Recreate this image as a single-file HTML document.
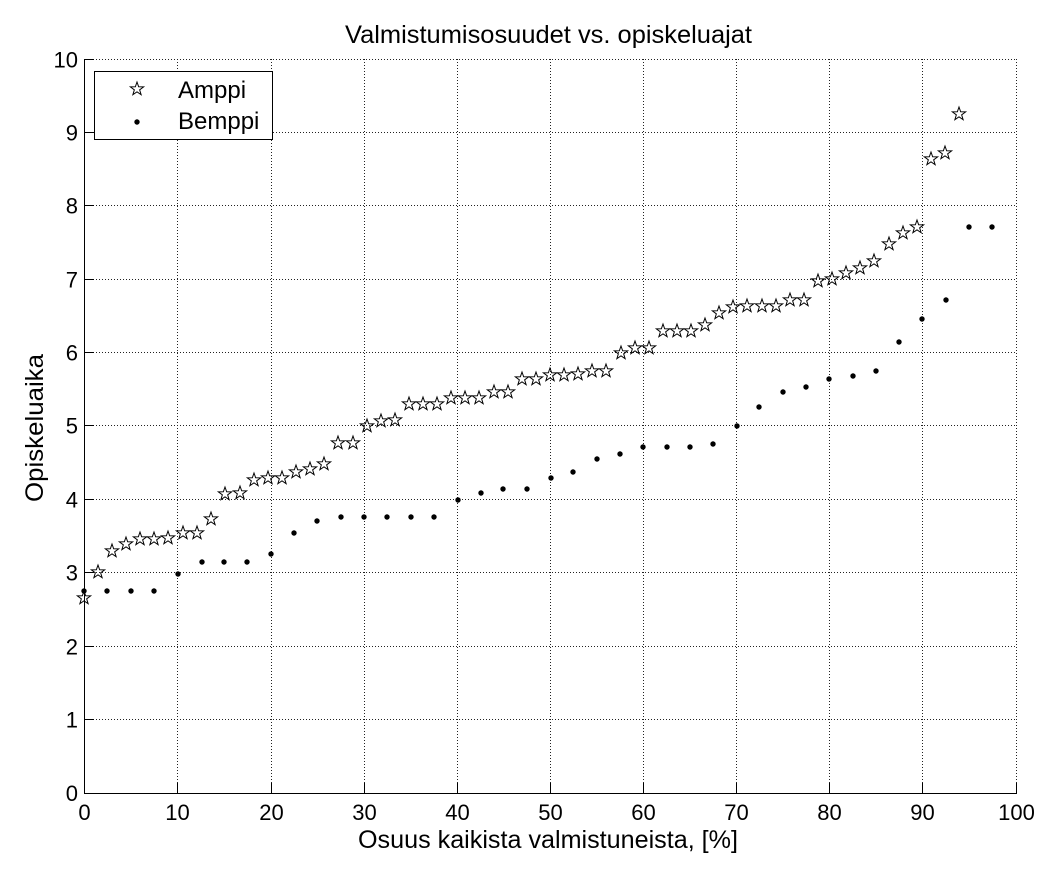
<!DOCTYPE html>
<html>
<head>
<meta charset="utf-8">
<style>
  html, body { margin: 0; padding: 0; background: #fff; }
  svg { display: block; }
  text { font-family: "Liberation Sans", Arial, sans-serif; fill: #000; }
</style>
</head>
<body>
<svg width="1064" height="873" viewBox="0 0 1064 873" xmlns="http://www.w3.org/2000/svg">
  <defs>
    <path id="st" d="M0,-7 L1.65,-2.27 L6.66,-2.16 L2.66,0.87 L4.11,5.66 L0,2.8 L-4.11,5.66 L-2.66,0.87 L-6.66,-2.16 L-1.65,-2.27 Z" fill="none" stroke="#000" stroke-width="1"/>
    <circle id="dt" cx="0" cy="0" r="2.7" fill="#000"/>
  </defs>
  <rect x="0" y="0" width="1064" height="873" fill="#fff"/>

  <g stroke="#222" stroke-width="1" stroke-dasharray="1,2" shape-rendering="crispEdges">
    <line x1="177.5" y1="59" x2="177.5" y2="793"/>
    <line x1="271.5" y1="59" x2="271.5" y2="793"/>
    <line x1="364.5" y1="59" x2="364.5" y2="793"/>
    <line x1="457.5" y1="59" x2="457.5" y2="793"/>
    <line x1="550.5" y1="59" x2="550.5" y2="793"/>
    <line x1="643.5" y1="59" x2="643.5" y2="793"/>
    <line x1="736.5" y1="59" x2="736.5" y2="793"/>
    <line x1="829.5" y1="59" x2="829.5" y2="793"/>
    <line x1="922.5" y1="59" x2="922.5" y2="793"/>
    <line x1="1016.5" y1="59" x2="1016.5" y2="793"/>
    <line x1="84" y1="719.5" x2="1017" y2="719.5"/>
    <line x1="84" y1="646.5" x2="1017" y2="646.5"/>
    <line x1="84" y1="572.5" x2="1017" y2="572.5"/>
    <line x1="84" y1="499.5" x2="1017" y2="499.5"/>
    <line x1="84" y1="425.5" x2="1017" y2="425.5"/>
    <line x1="84" y1="352.5" x2="1017" y2="352.5"/>
    <line x1="84" y1="279.5" x2="1017" y2="279.5"/>
    <line x1="84" y1="205.5" x2="1017" y2="205.5"/>
    <line x1="84" y1="132.5" x2="1017" y2="132.5"/>
    <line x1="84" y1="59.5" x2="1017" y2="59.5"/>
  </g>

  <g stroke="#000" stroke-width="1" shape-rendering="crispEdges">
    <line x1="84.5" y1="59" x2="84.5" y2="794"/>
    <line x1="84" y1="793.5" x2="1017" y2="793.5"/>
    <line x1="177.5" y1="793" x2="177.5" y2="783"/>
    <line x1="271.5" y1="793" x2="271.5" y2="783"/>
    <line x1="364.5" y1="793" x2="364.5" y2="783"/>
    <line x1="457.5" y1="793" x2="457.5" y2="783"/>
    <line x1="550.5" y1="793" x2="550.5" y2="783"/>
    <line x1="643.5" y1="793" x2="643.5" y2="783"/>
    <line x1="736.5" y1="793" x2="736.5" y2="783"/>
    <line x1="829.5" y1="793" x2="829.5" y2="783"/>
    <line x1="922.5" y1="793" x2="922.5" y2="783"/>
    <line x1="1016.5" y1="793" x2="1016.5" y2="783"/>
    <line x1="84" y1="719.5" x2="94" y2="719.5"/>
    <line x1="84" y1="646.5" x2="94" y2="646.5"/>
    <line x1="84" y1="572.5" x2="94" y2="572.5"/>
    <line x1="84" y1="499.5" x2="94" y2="499.5"/>
    <line x1="84" y1="425.5" x2="94" y2="425.5"/>
    <line x1="84" y1="352.5" x2="94" y2="352.5"/>
    <line x1="84" y1="279.5" x2="94" y2="279.5"/>
    <line x1="84" y1="205.5" x2="94" y2="205.5"/>
    <line x1="84" y1="132.5" x2="94" y2="132.5"/>
    <line x1="84" y1="59.5" x2="94" y2="59.5"/>
  </g>

  <g font-size="22" text-anchor="middle">
    <text x="84.5" y="820">0</text>
    <text x="177.5" y="820">10</text>
    <text x="271.5" y="820">20</text>
    <text x="364.5" y="820">30</text>
    <text x="457.5" y="820">40</text>
    <text x="550.5" y="820">50</text>
    <text x="643.5" y="820">60</text>
    <text x="736.5" y="820">70</text>
    <text x="829.5" y="820">80</text>
    <text x="922.5" y="820">90</text>
    <text x="1016.5" y="820">100</text>
  </g>
  <g font-size="22" text-anchor="end">
    <text x="78" y="801">0</text>
    <text x="78" y="727.5">1</text>
    <text x="78" y="654.5">2</text>
    <text x="78" y="580.5">3</text>
    <text x="78" y="507.5">4</text>
    <text x="78" y="433.5">5</text>
    <text x="78" y="360.5">6</text>
    <text x="78" y="287.5">7</text>
    <text x="78" y="213.5">8</text>
    <text x="78" y="140.5">9</text>
    <text x="78" y="67.5">10</text>
  </g>

  <text x="345" y="43" font-size="25" textLength="407" lengthAdjust="spacingAndGlyphs">Valmistumisosuudet vs. opiskeluajat</text>
  <text x="358" y="848" font-size="25" textLength="380" lengthAdjust="spacingAndGlyphs">Osuus kaikista valmistuneista, [%]</text>
  <text transform="translate(43,428) rotate(-90)" font-size="25" text-anchor="middle" textLength="148" lengthAdjust="spacingAndGlyphs">Opiskeluaika</text>

  <g>
    <use href="#st" x="84" y="598"/>
    <use href="#st" x="98" y="572"/>
    <use href="#st" x="112" y="551"/>
    <use href="#st" x="126" y="544"/>
    <use href="#st" x="140" y="539"/>
    <use href="#st" x="154" y="539"/>
    <use href="#st" x="168" y="538"/>
    <use href="#st" x="183" y="533"/>
    <use href="#st" x="197" y="533"/>
    <use href="#st" x="211" y="519"/>
    <use href="#st" x="225" y="494"/>
    <use href="#st" x="240" y="493"/>
    <use href="#st" x="254" y="480"/>
    <use href="#st" x="268" y="478"/>
    <use href="#st" x="282" y="478"/>
    <use href="#st" x="296" y="472"/>
    <use href="#st" x="310" y="469"/>
    <use href="#st" x="324" y="464"/>
    <use href="#st" x="338" y="443"/>
    <use href="#st" x="353" y="443"/>
    <use href="#st" x="367" y="426"/>
    <use href="#st" x="381" y="421"/>
    <use href="#st" x="395" y="420"/>
    <use href="#st" x="409" y="404"/>
    <use href="#st" x="423" y="404"/>
    <use href="#st" x="437" y="404"/>
    <use href="#st" x="451" y="398"/>
    <use href="#st" x="465" y="398"/>
    <use href="#st" x="479" y="398"/>
    <use href="#st" x="494" y="392"/>
    <use href="#st" x="508" y="392"/>
    <use href="#st" x="522" y="379"/>
    <use href="#st" x="536" y="379"/>
    <use href="#st" x="550" y="375"/>
    <use href="#st" x="564" y="375"/>
    <use href="#st" x="578" y="374"/>
    <use href="#st" x="592" y="371"/>
    <use href="#st" x="606" y="371"/>
    <use href="#st" x="621" y="353"/>
    <use href="#st" x="635" y="348"/>
    <use href="#st" x="649" y="348"/>
    <use href="#st" x="663" y="331"/>
    <use href="#st" x="677" y="331"/>
    <use href="#st" x="691" y="331"/>
    <use href="#st" x="705" y="325"/>
    <use href="#st" x="719" y="313"/>
    <use href="#st" x="733" y="307"/>
    <use href="#st" x="747" y="306"/>
    <use href="#st" x="762" y="306"/>
    <use href="#st" x="776" y="306"/>
    <use href="#st" x="790" y="300"/>
    <use href="#st" x="804" y="300"/>
    <use href="#st" x="818" y="281"/>
    <use href="#st" x="832" y="279"/>
    <use href="#st" x="846" y="273"/>
    <use href="#st" x="860" y="268"/>
    <use href="#st" x="874" y="261"/>
    <use href="#st" x="889" y="244"/>
    <use href="#st" x="903" y="233"/>
    <use href="#st" x="917" y="227"/>
    <use href="#st" x="931" y="159"/>
    <use href="#st" x="945" y="153"/>
    <use href="#st" x="959" y="114"/>
  </g>

  <g>
    <use href="#dt" x="84" y="591"/>
    <use href="#dt" x="107" y="591"/>
    <use href="#dt" x="131" y="591"/>
    <use href="#dt" x="154" y="591"/>
    <use href="#dt" x="178" y="574"/>
    <use href="#dt" x="202" y="562"/>
    <use href="#dt" x="224" y="562"/>
    <use href="#dt" x="247" y="562"/>
    <use href="#dt" x="271" y="554"/>
    <use href="#dt" x="294" y="533"/>
    <use href="#dt" x="317" y="521"/>
    <use href="#dt" x="341" y="517"/>
    <use href="#dt" x="364" y="517"/>
    <use href="#dt" x="387" y="517"/>
    <use href="#dt" x="411" y="517"/>
    <use href="#dt" x="434" y="517"/>
    <use href="#dt" x="458" y="500"/>
    <use href="#dt" x="481" y="493"/>
    <use href="#dt" x="503" y="489"/>
    <use href="#dt" x="527" y="489"/>
    <use href="#dt" x="551" y="478"/>
    <use href="#dt" x="573" y="472"/>
    <use href="#dt" x="597" y="459"/>
    <use href="#dt" x="620" y="454"/>
    <use href="#dt" x="643" y="447"/>
    <use href="#dt" x="667" y="447"/>
    <use href="#dt" x="690" y="447"/>
    <use href="#dt" x="713" y="444"/>
    <use href="#dt" x="737" y="426"/>
    <use href="#dt" x="759" y="407"/>
    <use href="#dt" x="783" y="392"/>
    <use href="#dt" x="806" y="387"/>
    <use href="#dt" x="829" y="379"/>
    <use href="#dt" x="853" y="376"/>
    <use href="#dt" x="876" y="371"/>
    <use href="#dt" x="899" y="342"/>
    <use href="#dt" x="922" y="319"/>
    <use href="#dt" x="946" y="300"/>
    <use href="#dt" x="969" y="227"/>
    <use href="#dt" x="992" y="227"/>
  </g>

  <rect x="94.5" y="71.5" width="178" height="68" fill="#fff" stroke="#000" stroke-width="1" shape-rendering="crispEdges"/>
  <use href="#st" x="137" y="89"/>
  <use href="#dt" x="137" y="122"/>
  <text x="178" y="98" font-size="24">Amppi</text>
  <text x="178" y="129" font-size="24">Bemppi</text>
</svg>
</body>
</html>
